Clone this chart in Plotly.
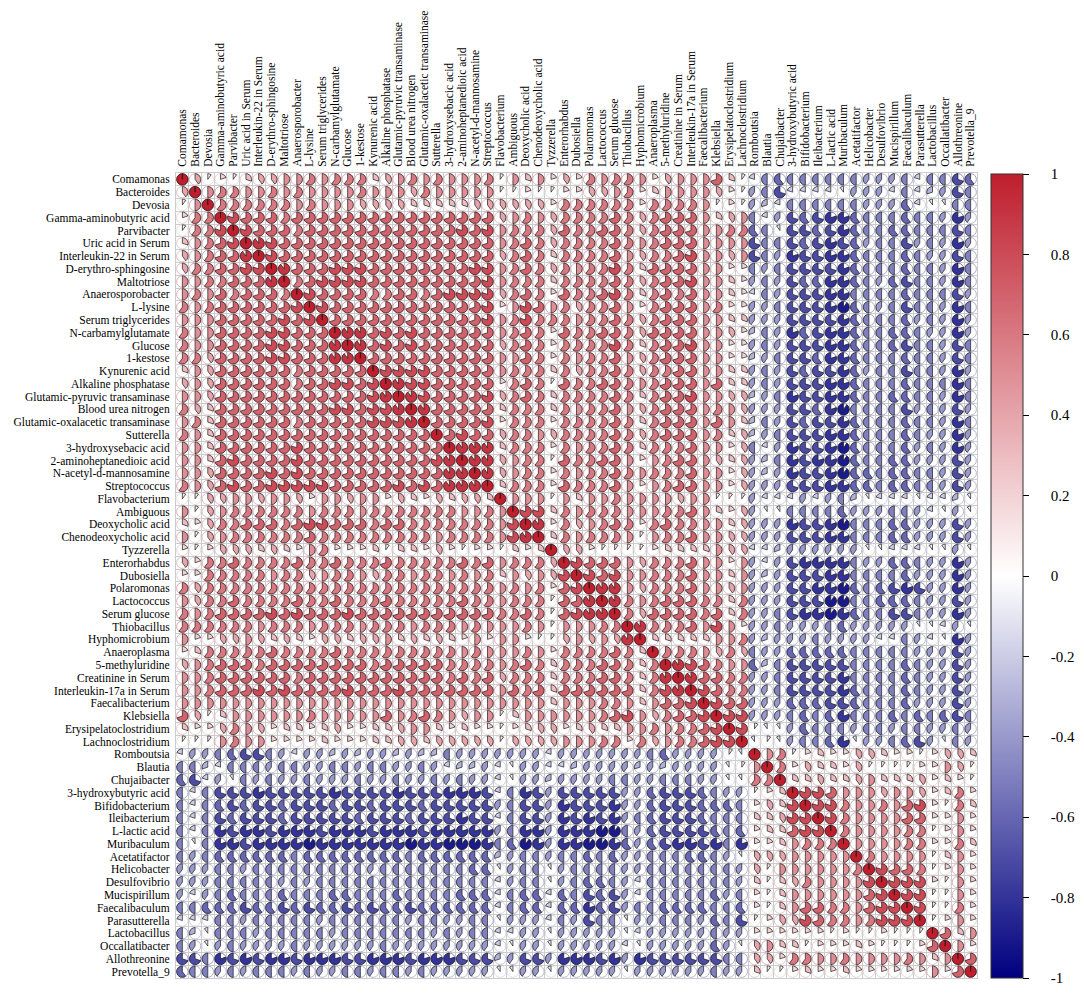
import numpy as np
import plotly.graph_objects as go

# variables, same order on both axes
labels = [
    "Comamonas", "Bacteroides", "Devosia", "Gamma-aminobutyric acid", "Parvibacter",
    "Uric acid in Serum", "Interleukin-22 in Serum", "D-erythro-sphingosine", "Maltotriose",
    "Anaerosporobacter", "L-lysine", "Serum triglycerides", "N-carbamylglutamate", "Glucose",
    "1-kestose", "Kynurenic acid", "Alkaline phosphatase", "Glutamic-pyruvic transaminase",
    "Blood urea nitrogen", "Glutamic-oxalacetic transaminase", "Sutterella",
    "3-hydroxysebacic acid", "2-aminoheptanedioic acid", "N-acetyl-d-mannosamine",
    "Streptococcus", "Flavobacterium", "Ambiguous", "Deoxycholic acid",
    "Chenodeoxycholic acid", "Tyzzerella", "Enterorhabdus", "Dubosiella", "Polaromonas",
    "Lactococcus", "Serum glucose", "Thiobacillus", "Hyphomicrobium", "Anaeroplasma",
    "5-methyluridine", "Creatinine in Serum", "Interleukin-17a in Serum", "Faecalibacterium",
    "Klebsiella", "Erysipelatoclostridium", "Lachnoclostridium", "Romboutsia", "Blautia",
    "Chujaibacter", "3-hydroxybutyric acid", "Bifidobacterium", "Ileibacterium",
    "L-lactic acid", "Muribaculum", "Acetatifactor", "Helicobacter", "Desulfovibrio",
    "Mucispirillum", "Faecalibaculum", "Parasutterella", "Lactobacillus", "Occallatibacter",
    "Allothreonine", "Prevotella_9",
]

# lower triangle of the correlation matrix (one row per variable)
# '0'-'9' = 0.0..0.9, 'X' = 1.0, 'a'-'j' = -0.1..-1.0
corr_lower = [
    "X",
    "4" "X",
    "15" "X",
    "266" "X",
    "166" "8" "X",
    "356" "78" "X",
    "456" "779" "X",
    "466" "7788" "X",
    "556" "67779" "X",
    "565" "767776" "X",
    "656" "777777" "8" "X",
    "555" "777778" "78" "X",
    "655" "777788" "777" "X",
    "655" "777788" "7779" "X",
    "664" "777788" "77799" "X",
    "354" "777777" "677777" "X",
    "454" "777777" "677887" "8" "X",
    "554" "777777" "777777" "89" "X",
    "643" "777777" "777887" "889" "X",
    "563" "777777" "677777" "8889" "X",
    "653" "777777" "777777" "77777" "X",
    "553" "777777" "877777" "777777" "X",
    "553" "787777" "877777" "777778" "9" "X",
    "554" "777787" "877777" "777777" "99" "X",
    "654" "787788" "888777" "778787" "999" "X",
    "114" "455455" "425545" "524324" "3443" "X",
    "514" "566666" "656665" "666666" "6556" "5" "X",
    "324" "667776" "788777" "677666" "6666" "5" "8" "X",
    "514" "566666" "676666" "666665" "6666" "5" "89" "X",
    "212" "444343" "256222" "313324" "2122" "1" "323" "X",
    "426" "676666" "766766" "676666" "6767" "5" "666" "4" "X",
    "226" "666656" "645665" "466566" "5656" "3" "545" "4" "8" "X",
    "646" "666666" "666666" "666666" "6666" "5" "656" "2" "78" "X",
    "546" "676666" "766766" "676666" "6766" "5" "666" "1" "779" "X",
    "656" "777787" "877787" "777777" "7777" "6" "676" "1" "7899" "X",
    "666" "666566" "656665" "666566" "6565" "5" "565" "1" "55566" "X",
    "522" "445434" "324434" "453434" "3252" "5" "521" "1" "45454" "9" "X",
    "236" "666676" "666766" "666666" "6565" "5" "565" "2" "66667" "63" "X",
    "456" "777677" "777777" "677777" "6666" "5" "676" "3" "66677" "636" "X",
    "556" "777777" "677777" "777777" "6767" "4" "666" "3" "66677" "636" "9" "X",
    "556" "777878" "777787" "778777" "7777" "5" "767" "3" "77777" "736" "89" "X",
    "555" "555555" "555555" "555555" "5555" "5" "555" "3" "55566" "535" "778" "X",
    "741" "355555" "565555" "575676" "5455" "1" "355" "5" "55567" "854" "6778" "X",
    "322" "465423" "323422" "334553" "2322" "1" "234" "4" "23433" "556" "5667" "8" "X",
    "111" "565522" "223222" "334434" "4444" "1" "444" "4" "55566" "264" "5667" "88" "X",
    "bdd" "efgged" "bddcdc" "ddcdcc" "eddd" "d" "ddd" "b" "ddddd" "dde" "fddd" "d1a" "X",
    "eec" "beeede" "eddeed" "eedded" "bccd" "b" "add" "b" "bcddd" "dcd" "cddd" "da1" "5" "X",
    "fgb" "daeded" "deddde" "ddedde" "dedd" "b" "add" "c" "dddde" "edd" "eeed" "daa" "66" "X",
    "ebe" "ggghgg" "ggghgg" "gghggg" "hhhg" "b" "ehg" "d" "ggggg" "ddf" "gggf" "edd" "123" "X",
    "ebe" "fgfggf" "gggfgg" "fgggfg" "gggg" "d" "egg" "d" "hgggh" "ddf" "gggf" "ffe" "2438" "X",
    "ebe" "gfgggf" "gggggf" "gggfgg" "ghgg" "b" "egg" "d" "hghgh" "def" "gggf" "eee" "33488" "X",
    "ebe" "hghhgh" "hhghhh" "ghhhgh" "hhhh" "d" "ehh" "d" "hhhii" "edf" "gggg" "fef" "233788" "X",
    "eae" "hhghhh" "hihhhh" "hhhihh" "iiih" "e" "fih" "d" "hhiih" "fdf" "ghhg" "heh" "2235666" "X",
    "ede" "ffffff" "efffff" "fffeff" "ffff" "c" "dee" "d" "eefef" "dde" "eeff" "eda" "44455555" "X",
    "ddd" "eedeee" "eeeeee" "deeeee" "eeff" "a" "dee" "a" "deeee" "dde" "eeee" "eed" "415555556" "X",
    "ddd" "eeeeed" "edeeee" "eeeeee" "eeee" "b" "dee" "a" "deffe" "dbe" "eeee" "eed" "3134655558" "X",
    "dbd" "efeeef" "eeeffe" "eefeee" "efff" "b" "eff" "b" "fegfg" "dbe" "eeee" "fde" "21355555578" "X",
    "eef" "ffgffg" "fgffgf" "gffgff" "ffff" "b" "eff" "b" "ffhfg" "dee" "ffff" "eef" "213577665788" "X",
    "bbb" "eedeee" "eedeee" "eeedee" "ddee" "a" "ddd" "b" "edgee" "add" "eeed" "feg" "1244876656888" "X",
    "eca" "eeedee" "eeedee" "eeeeed" "edee" "b" "bdd" "a" "ddddd" "abd" "dddd" "edd" "22222212112111" "X",
    "eda" "dedddd" "eddddd" "dedddd" "dddd" "b" "add" "a" "ddddd" "bad" "dddd" "fda" "453312223211127" "X",
    "gge" "hghghh" "ghhhgg" "hhhghh" "hggg" "c" "dgg" "d" "hhhgh" "dhg" "gggg" "gee" "4426655655556535" "X",
    "fee" "dedeee" "deddee" "deeded" "dddd" "a" "add" "a" "ddddd" "add" "dddd" "edd" "31123223222222527" "X",
]

cbar_ticks = [1, 0.8, 0.6, 0.4, 0.2, 0, -0.2, -0.4, -0.6, -0.8, -1]


def decode(ch):
    if ch == "X":
        return 1.0
    if ch.isdigit():
        return int(ch) / 10
    return -(ord(ch) - 96) / 10


n = len(labels)
corr = np.zeros((n, n))
for i, row in enumerate(corr_lower):
    assert len(row) == i + 1, (i, len(row))
    for j, ch in enumerate(row):
        corr[i, j] = corr[j, i] = decode(ch)

RED = (191, 30, 45)
BLUE = (0, 0, 127)


def mix(a, b, t):
    return tuple(round(x + (y - x) * t) for x, y in zip(a, b))


def colour(v):
    return mix((255, 255, 255), RED if v >= 0 else BLUE, abs(v))


def rgb(c):
    return "rgb(%d,%d,%d)" % c


# the page body adds 8px, so the figure is drawn 8px smaller and shifted
W, H, OFF = 1076, 986, 8
px0, px1, py0, py1 = 176 - OFF, 977 - OFF, 173 - OFF, 978 - OFF

fig = go.Figure()

# faint circle behind every pie
jj, ii = np.meshgrid(np.arange(n), np.arange(n))
ring = [rgb(mix(colour(v), (215, 215, 215), 0.5)) for v in corr.ravel()]
fig.add_trace(go.Scatter(
    x=jj.ravel(), y=ii.ravel(), mode="markers",
    marker=dict(symbol="circle-open", size=11.5, color=ring, line=dict(width=1)),
    hoverinfo="skip", showlegend=False,
))

# pie wedges, one trace per colour level
R = 0.45
for v in sorted(set(np.round(corr.ravel(), 2))):
    if v == 0:
        continue
    xs, ys = [], []
    sgn = 1 if v > 0 else -1
    for i, j in zip(*np.where(np.isclose(corr, v))):
        th = np.linspace(0, 2 * np.pi * abs(v), max(4, int(60 * abs(v))))
        xs += [j] + list(j + sgn * R * np.sin(th)) + [j, None]
        ys += [i] + list(i - R * np.cos(th)) + [i, None]
    fig.add_trace(go.Scatter(
        x=xs, y=ys, mode="lines", fill="toself", fillcolor=rgb(colour(v)),
        line=dict(color="#1a1a1a", width=0.7),
        hoverinfo="skip", showlegend=False,
    ))

# colour bar
fig.add_trace(go.Scatter(
    x=[0], y=[0], mode="markers",
    marker=dict(
        size=1, opacity=0, color=[0], cmin=-1, cmax=1,
        colorscale=[[0, rgb(BLUE)], [0.5, "white"], [1, rgb(RED)]],
        showscale=True,
        colorbar=dict(
            thickness=32, thicknessmode="pixels", len=804, lenmode="pixels",
            x=(991 - OFF) / W, xanchor="left", xpad=0,
            y=1 - (576 - OFF) / H, yanchor="middle", ypad=0,
            tickmode="array", tickvals=cbar_ticks,
            ticktext=["\u00a0" * 5 + ("%g" % t) for t in cbar_ticks],
            ticks="outside", ticklen=6, tickcolor="black",
            outlinecolor="#333333", outlinewidth=1,
            tickfont=dict(family="Liberation Serif", size=15, color="black"),
        ),
    ),
    hoverinfo="skip", showlegend=False,
))

edges = [k - 0.5 for k in range(n + 1)]
font = dict(family="Liberation Serif", size=11.5, color="black")
fig.update_layout(
    width=W, height=H,
    margin=dict(l=0, r=0, t=0, b=0),
    paper_bgcolor="white", plot_bgcolor="white",
    xaxis=dict(
        domain=[px0 / W, px1 / W], range=[-0.5, n - 0.5], side="top",
        tickmode="array", tickvals=list(range(n)), ticktext=labels, tickangle=-90,
        tickfont=font, ticks="outside", ticklen=3, tickcolor="rgba(0,0,0,0)",
        showgrid=False, zeroline=False, showline=True, linecolor="#cccccc", mirror=True,
        minor=dict(tickmode="array", tickvals=edges, showgrid=True, gridcolor="#cccccc", gridwidth=1),
        fixedrange=True,
    ),
    yaxis=dict(
        domain=[1 - py1 / H, 1 - py0 / H], range=[n - 0.5, -0.5],
        tickmode="array", tickvals=list(range(n)), ticktext=labels,
        tickfont=font, ticks="outside", ticklen=3, tickcolor="rgba(0,0,0,0)",
        showgrid=False, zeroline=False, showline=True, linecolor="#cccccc", mirror=True,
        minor=dict(tickmode="array", tickvals=edges, showgrid=True, gridcolor="#cccccc", gridwidth=1),
        fixedrange=True,
    ),
)

fig.write_html("out.html")
